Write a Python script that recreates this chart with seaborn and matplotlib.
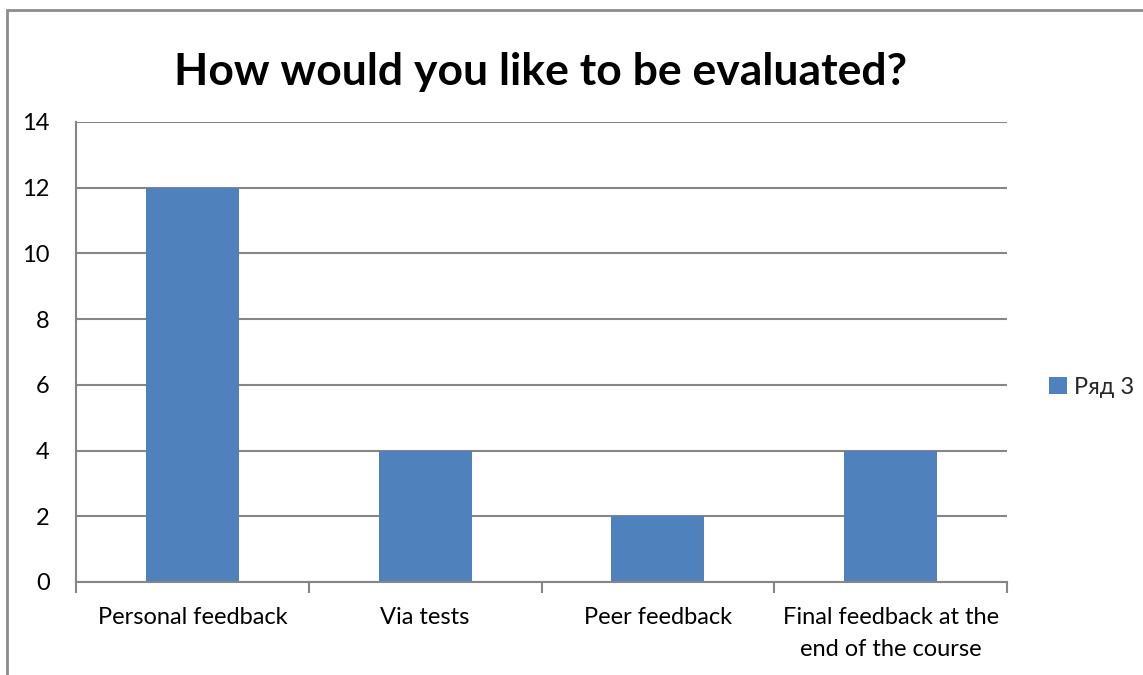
import matplotlib
matplotlib.use("Agg")
import matplotlib.pyplot as plt
from matplotlib.patches import Rectangle
import seaborn as sns
import pandas as pd

categories = ["Personal feedback", "Via tests", "Peer feedback",
              "Final feedback at the\nend of the course"]
values = [12, 4, 2, 4]
series_name = "Ряд 3"
y_ticks = [0, 2, 4, 6, 8, 10, 12, 14]
title = "How would you like to be evaluated?"

sns.set_theme(style="white")
plt.rcParams['font.family'] = ['Lato', 'DejaVu Sans']

bar_color = "#4F81BD"
grid_color = "#868686"

fig = plt.figure(figsize=(11.43, 6.75), dpi=100)
ax = fig.add_axes([76/1143, 1 - 582/675, (1007 - 76)/1143, (582 - 122)/675])

df = pd.DataFrame({"category": categories, "value": values})
sns.barplot(data=df, x="category", y="value", color=bar_color, width=0.4,
            saturation=1, ax=ax, label=series_name, linewidth=0, edgecolor="none")
if ax.get_legend() is not None:
    ax.get_legend().remove()

ax.set_ylim(0, 14)
ax.set_xlim(-0.5, len(categories) - 0.5)
ax.set_yticks(y_ticks)
ax.set_yticklabels([str(t) for t in y_ticks], fontsize=17)
ax.set_xlabel("")
ax.set_ylabel("")
ax.yaxis.grid(True, color=grid_color, linewidth=1.5)
ax.set_axisbelow(True)
for s in ["top", "right"]:
    ax.spines[s].set_visible(False)
for s in ["left", "bottom"]:
    ax.spines[s].set_color(grid_color)
    ax.spines[s].set_linewidth(1.5)

ax.tick_params(axis="y", length=8, width=1.5, color=grid_color, pad=11, labelcolor="black")
ax.set_xticks(range(len(categories)))
ax.set_xticklabels(categories, fontsize=17, ha="center", multialignment="center",
                   linespacing=1.65)
ax.tick_params(axis="x", which="major", length=0, pad=18, labelcolor="black")
ax.set_xticks([i - 0.5 for i in range(len(categories) + 1)], minor=True)
ax.tick_params(axis="x", which="minor", length=8, width=1.5, color=grid_color, bottom=True)

fig.text(541/1143, 1 - 72/675, title, ha="center", va="center",
         fontsize=32, fontweight="bold", color="black")

handles, labels = ax.get_legend_handles_labels()
fig.legend(handles, labels, loc="center left",
           bbox_to_anchor=(1028/1143, 1 - 387/675), frameon=False,
           fontsize=17, handlelength=0.75, handleheight=0.75, handletextpad=0.3)

fig.patches.append(Rectangle((7/1143, -0.2), 2, 1 - 10/675 + 0.2,
                             transform=fig.transFigure, fill=False,
                             edgecolor="#8c8c8c", linewidth=2))

fig.savefig("out.png", dpi=100, facecolor="white")
